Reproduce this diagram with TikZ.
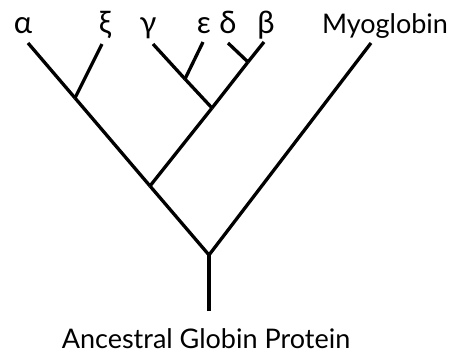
\documentclass[tikz,border=0pt]{standalone}
\usepackage{fontspec}
\setmainfont{Lato}
\usetikzlibrary{positioning}

\begin{document}
\begin{tikzpicture}[
        x=1pt, y=-1pt,
        branch/.style={line width=3.3pt},
        leaf/.style={anchor=base, inner sep=0pt, font=\fontsize{27}{32}\selectfont},
        greek/.style={leaf, font=\fontsize{31}{36}\selectfont}
        ]
        \useasboundingbox (0,0) rectangle (449,354);

        % junctions
        \coordinate (base) at (209, 311);
        \coordinate (root) at (209, 255);
        \coordinate (j1) at (150, 186);
        \coordinate (j2) at (75, 98);
        \coordinate (j3) at (212, 108);
        \coordinate (j4) at (185, 79);
        \coordinate (j5) at (248, 62);

        % leaf tips
        \coordinate (ta) at (28, 43);
        \coordinate (tx) at (102, 44);
        \coordinate (tg) at (153, 44);
        \coordinate (te) at (203, 42);
        \coordinate (td) at (228, 43);
        \coordinate (tb) at (264, 42);
        \coordinate (tm) at (371, 43);

        % labels
        \node[greek] (alpha) at (23, 33) {α};
        \node[greek] (xi) at (105, 33) {ξ};
        \node[greek] (gamma) at (148, 33) {γ};
        \node[greek] (eps) at (204, 33) {ε};
        \node[greek] (delta) at (228, 33) {δ};
        \node[greek] (beta) at (266, 33) {β};
        \node[leaf] (myo) at (385, 33) {Myoglobin};
        \node[leaf] (anc) at (206, 348) {Ancestral Globin Protein};

        % tree
        \draw[branch] (base) -- (root);
        \draw[branch] (root) -- (j1);
        \draw[branch] (root) -- (tm);
        \draw[branch] (j1) -- (j2);
        \draw[branch] (j2) -- (ta);
        \draw[branch] (j2) -- (tx);
        \draw[branch] (j1) -- (j3);
        \draw[branch] (j3) -- (j4);
        \draw[branch] (j4) -- (tg);
        \draw[branch] (j4) -- (te);
        \draw[branch] (j3) -- (j5);
        \draw[branch] (j5) -- (td);
        \draw[branch] (j5) -- (tb);
    \end{tikzpicture}
\end{document}
